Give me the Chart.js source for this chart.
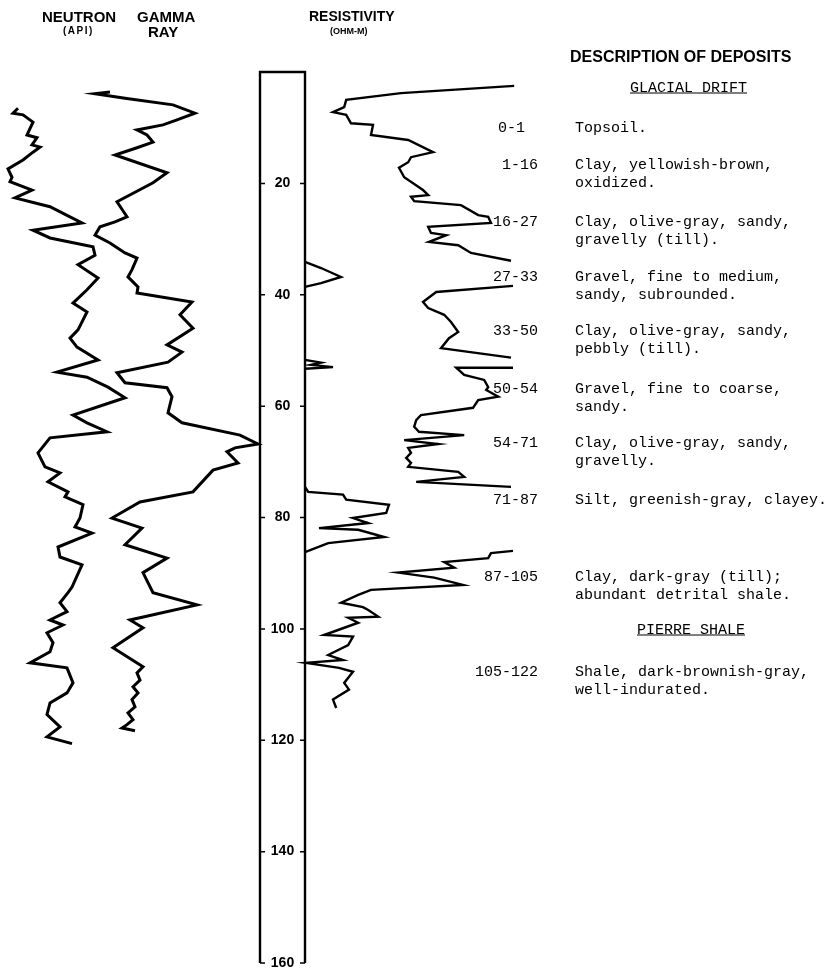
<!DOCTYPE html>
<html>
<head>
<meta charset="utf-8">
<script src="https://cdn.jsdelivr.net/npm/chart.js@4.4.1/dist/chart.umd.min.js"></script>
<style>
  body { margin: 0; background: #fff; }
  #wrap { position: relative; width: 838px; height: 969px; overflow: hidden; }
  #log { position: absolute; left: 0; top: 0; }
  .t { position: absolute; white-space: pre; color: #000; transform: translateY(-50%); line-height: 1; }
  .hd { font-family: "Liberation Sans", Arial, sans-serif; font-weight: bold; }
  .mono { font-family: "Liberation Mono", "DejaVu Sans Mono", monospace; font-size: 15px; }
  .u { text-decoration: underline; }
</style>
</head>
<body>
<div id="wrap">
  <canvas id="log" width="838" height="969"></canvas>
</div>
<script>
// depth in feet, curve values in relative track units
const depthTicks = [20, 40, 60, 80, 100, 120, 140, 160];

// [depth, value]
const neutronLog = [
  [6.5, 9], [7.4, 6.5], [7.7, 11.5], [9.0, 16.5], [11.3, 13.5], [11.8, 18.5], [13.1, 16], [13.5, 20],
  [14.4, 16.5], [15.8, 11.5], [17.4, 4], [18.9, 6], [19.7, 5], [21.2, 16], [22.6, 7.5], [24.2, 25],
  [26.0, 35], [27.1, 41], [28.4, 16.5], [29.8, 25], [31.4, 46.5], [32.9, 47.5], [34.6, 39], [37.0, 49],
  [39.1, 43.5], [41.5, 36.5], [43.1, 43.5], [46.3, 39], [47.8, 35], [49.4, 38.5], [51.7, 49], [53.9, 28.5],
  [54.8, 43.5], [56.6, 54], [58.5, 62.5], [61.6, 36.5], [63.0, 43.5], [64.6, 53.5], [65.7, 25], [68.4, 19],
  [70.9, 22.5], [72.0, 30], [73.6, 24], [75.4, 34], [76.3, 32.5], [77.7, 41.5], [80.1, 40], [81.7, 37.5],
  [82.8, 46], [85.3, 29], [87.1, 30], [88.5, 41], [92.5, 36], [93.5, 34], [95.3, 30], [96.9, 33.5],
  [98.4, 25], [99.3, 31.5], [100.7, 23.5], [102.5, 26.5], [104.1, 25], [106.1, 15], [107.0, 33.5],
  [109.7, 36.5], [111.5, 33.5], [113.3, 25], [115.4, 23.5], [117.6, 30], [119.4, 23.5], [120.6, 36]
];

const gammaLog = [
  [3.6, 10], [3.9, 2.5], [4.7, 17.5], [5.9, 41.5], [7.4, 52.5], [8.6, 43.5], [9.5, 36.5], [10.4, 23.5],
  [11.3, 28.5], [12.6, 31.5], [13.6, 23.5], [14.9, 12.5], [18.1, 38.5], [19.9, 31.5], [23.3, 13.5],
  [26.0, 18.5], [26.9, 12.5], [27.8, 5], [29.3, 2.5], [30.7, 10], [32.5, 17.5], [33.4, 23.5], [35.5, 21],
  [36.8, 19], [38.6, 24], [39.7, 23.5], [41.3, 51], [43.6, 45], [46.0, 51.5], [49.0, 38.5], [50.3, 46],
  [52.1, 39], [54.0, 13.5], [55.8, 17.5], [56.7, 38.5], [58.3, 41], [61.2, 39], [63.0, 46], [65.2, 75],
  [66.8, 84], [67.5, 72.5], [68.2, 68.5], [70.2, 74], [71.5, 61.5], [75.4, 51.5], [77.2, 25], [80.1, 11],
  [81.9, 26], [84.9, 17.5], [87.3, 38.5], [89.9, 26.5], [93.5, 31.5], [95.7, 53.5], [98.4, 20], [99.8, 26.5],
  [103.4, 11.5], [106.8, 26.5], [107.9, 23.5], [109.2, 25], [110.4, 21.5], [111.5, 24], [112.7, 21],
  [114.0, 22.5], [115.1, 19], [116.3, 21.5], [117.2, 18.5], [117.8, 16], [118.3, 22.5]
];

// ohm-m; null = trace goes off scale and wraps back into the track
const resistivityLog = [
  [2.5, 52.3], [3.8, 24], [5.0, 10.3], [6.3, 9.8], [7.2, 7], [7.7, 10.3], [9.2, 11.5], [9.5, 17],
  [11.3, 16.5], [12.2, 25.8], [14.4, 32], [15.3, 26.5], [16.2, 25.8], [17.2, 23.5], [18.9, 24.8],
  [21.2, 29.5], [22.1, 30.8], [22.4, 26.5], [23.2, 27.3], [23.9, 39], [25.7, 43.3], [26.0, 45.8],
  [27.1, 46.5], [27.8, 30.8], [28.9, 31.5], [29.3, 35.3], [30.5, 31], [31.1, 38.3], [32.5, 41.5], [33.9, 51.5],
  null,
  [34.1, 0], [35.2, 4], [36.8, 9], [37.9, 4], [38.6, 0],
  null,
  [38.4, 52], [39.5, 32.8], [41.3, 29.5], [42.4, 30.8], [43.6, 34.8], [44.9, 36.5], [46.7, 38.3],
  [47.8, 36], [49.6, 34], [51.3, 51.5],
  null,
  [51.7, 0], [52.2, 4], [52.6, 1.5], [53.0, 7], [53.3, 0],
  null,
  [53.1, 52], [53.1, 37.8], [54.4, 39.8], [55.3, 44.8], [56.6, 45.8], [57.1, 45.3], [58.3, 48.3],
  [58.9, 43.3], [60.3, 42], [61.6, 29], [62.5, 27.8], [63.7, 27.3], [64.6, 28.5], [65.2, 39.8],
  [66.1, 24.8], [66.8, 33.3], [67.5, 25.8], [68.4, 26.5], [69.3, 25.3], [70.2, 26.5], [70.9, 25.8],
  [71.8, 38.3], [72.7, 39.8], [73.6, 27.8], [74.5, 51.5],
  null,
  [74.5, 0], [75.4, 0.8], [75.9, 9.5], [76.8, 10.3], [77.7, 21], [79.2, 20.3], [80.1, 12], [81.0, 15.8],
  [81.9, 3.5], [82.2, 13.3], [83.5, 19.8], [84.6, 5.8], [86.2, 0],
  null,
  [86.0, 52], [86.4, 46.5], [87.3, 45.8], [88.0, 34.8], [89.0, 37.3], [89.9, 23.3], [90.8, 32.3],
  [92.1, 39.5], [93.0, 16.5], [93.9, 13.3], [95.3, 9], [96.1, 14.5], [96.6, 15.8], [97.8, 18.3],
  [98.0, 10.8], [98.9, 13.3], [101.1, 4.8], [101.4, 12], [102.9, 10.8], [104.7, 5.8], [105.6, 9.5],
  [106.1, 0.3], [107.0, 8.5], [107.7, 12], [109.7, 9.8], [110.9, 11], [112.7, 7], [114.2, 7.8]
];

const intervals = ['0-1', '1-16', '16-27', '27-33', '33-50', '50-54', '54-71', '71-87', '87-105', '105-122'];
const descriptions = [
  ['Topsoil.'],
  ['Clay, yellowish-brown,', 'oxidized.'],
  ['Clay, olive-gray, sandy,', 'gravelly (till).'],
  ['Gravel, fine to medium,', 'sandy, subrounded.'],
  ['Clay, olive-gray, sandy,', 'pebbly (till).'],
  ['Gravel, fine to coarse,', 'sandy.'],
  ['Clay, olive-gray, sandy,', 'gravelly.'],
  ['Silt, greenish-gray, clayey.'],
  ['Clay, dark-gray (till);', 'abundant detrital shale.'],
  ['Shale, dark-brownish-gray,', 'well-indurated.']
];
const units = ['GLACIAL DRIFT', 'PIERRE SHALE'];

// ---- page layout (pixels) ----
const wrap = document.getElementById('wrap');
function addText(txt, x, y, cls, style) {
  const d = document.createElement('div');
  d.className = 't ' + cls;
  d.textContent = txt;
  d.style.left = x + 'px';
  d.style.top = y + 'px';
  if (style) Object.assign(d.style, style);
  wrap.appendChild(d);
  return d;
}
addText('NEUTRON', 42, 16, 'hd', { fontSize: '15px' });
addText('GAMMA', 137, 16, 'hd', { fontSize: '15px' });
addText('(API)', 63, 31, 'hd', { fontSize: '10px', letterSpacing: '1.5px' });
addText('RAY', 148, 31, 'hd', { fontSize: '15px' });
addText('RESISTIVITY', 309, 16, 'hd', { fontSize: '14px' });
addText('(OHM-M)', 330, 31, 'hd', { fontSize: '9px' });
addText('DESCRIPTION OF DEPOSITS', 570, 57, 'hd', { fontSize: '16px' });
addText(units[0], 630, 88, 'mono u');
addText(units[1], 637, 630, 'mono u');

const rowY = [128, 165, 222, 277, 331, 389, 443, 500, 577, 672];
intervals.forEach((iv, i) => {
  const el = addText(iv, 0, rowY[i], 'mono');
  if (i === 0) el.style.left = '498px';
  else { el.style.left = 'auto'; el.style.right = (838 - 538) + 'px'; }
  descriptions[i].forEach((line, j) => addText(line, 575, rowY[i] + j * 18, 'mono'));
});

// ---- chart ----
const toPts = arr => arr.map(p => p === null ? { x: null, y: null } : { x: p[1], y: p[0] });

// each curve has its own track: left edge in px and px per unit
function track(left, pxPerUnit) {
  return { type: 'linear', display: false, min: -left / pxPerUnit, max: (838 - left) / pxPerUnit };
}

const depthColumn = {
  id: 'depthColumn',
  afterDatasetsDraw(chart) {
    const { ctx, scales: { y } } = chart;
    const left = 260, right = 305;
    const top = y.getPixelForValue(0), bottom = y.getPixelForValue(160);
    ctx.save();
    ctx.strokeStyle = '#000';
    ctx.lineWidth = 2.4;
    ctx.beginPath();
    ctx.moveTo(left, bottom); ctx.lineTo(left, top); ctx.lineTo(right, top); ctx.lineTo(right, bottom);
    ctx.stroke();
    ctx.font = 'bold 14px "Liberation Sans", Arial, sans-serif';
    ctx.textAlign = 'center';
    ctx.textBaseline = 'middle';
    ctx.fillStyle = '#000';
    ctx.lineWidth = 1.5;
    depthTicks.forEach(d => {
      const py = y.getPixelForValue(d);
      ctx.beginPath();
      ctx.moveTo(left, py); ctx.lineTo(left + 5, py);
      ctx.moveTo(right - 5, py); ctx.lineTo(right, py);
      ctx.stroke();
      ctx.fillText(String(d), (left + right) / 2, py);
    });
    ctx.restore();
  }
};

const lineStyle = { showLine: true, pointRadius: 0, borderColor: '#000', borderWidth: 3, tension: 0, spanGaps: false };

new Chart(document.getElementById('log'), {
  type: 'scatter',
  data: {
    datasets: [
      { label: 'Neutron', data: toPts(neutronLog), xAxisID: 'xN', ...lineStyle },
      { label: 'Gamma ray', data: toPts(gammaLog), xAxisID: 'xG', ...lineStyle },
      { label: 'Resistivity', data: toPts(resistivityLog), xAxisID: 'xR', ...lineStyle, borderWidth: 2.4 }
    ]
  },
  options: {
    responsive: false,
    animation: false,
    layout: { padding: { top: 72, bottom: 6, left: 0, right: 0 } },
    scales: {
      y: { type: 'linear', display: false, reverse: true, min: 0, max: 160 },
      xN: track(0, 2),
      xG: track(90, 2),
      xR: track(305, 4)
    },
    plugins: { legend: { display: false }, tooltip: { enabled: false } }
  },
  plugins: [depthColumn]
});
</script>
</body>
</html>
